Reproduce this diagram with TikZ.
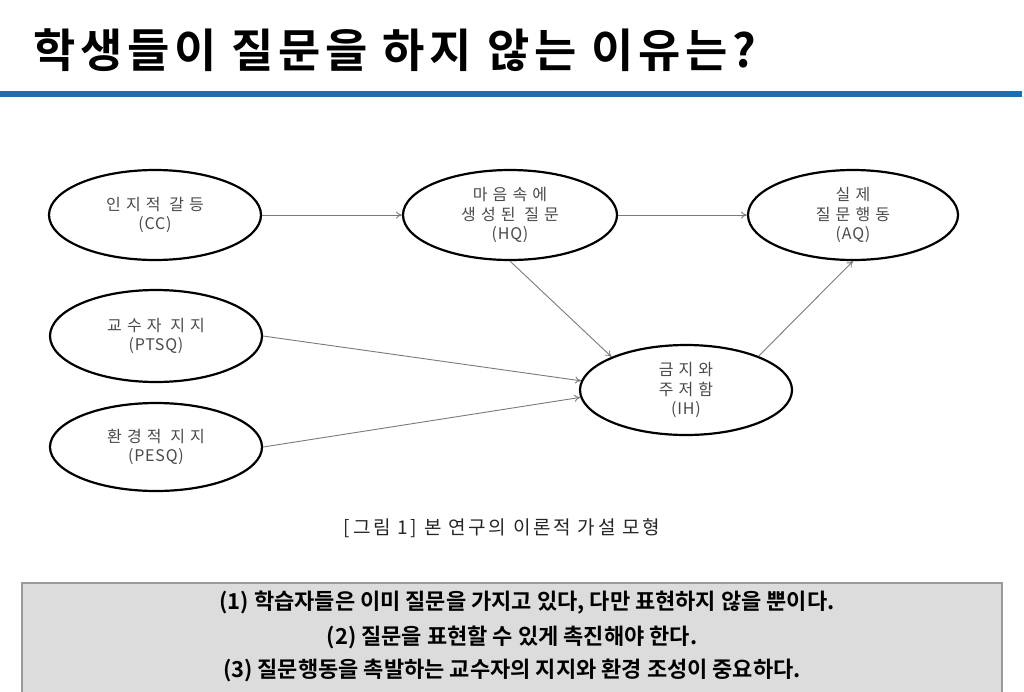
\documentclass[tikz,border=0pt]{standalone}
\usepackage{fontspec}
\usetikzlibrary{shapes.geometric,arrows.meta}
\setmainfont{Noto Sans CJK KR}
\newfontfamily\krtitle{Noto Sans CJK KR}[BoldFont=* Bold,LetterSpace=10]
\newfontfamily\krnode{Noto Sans CJK KR}[LetterSpace=32]
\newfontfamily\latnode{Noto Sans CJK KR}[LetterSpace=5]
\newfontfamily\krcap{Noto Sans CJK KR}[LetterSpace=14]
\newfontfamily\krbox{Noto Sans CJK KR}[BoldFont=* Bold]
\definecolor{titleblue}{HTML}{1A6FB5}
\definecolor{boxfill}{HTML}{DCDCDC}
\definecolor{boxline}{HTML}{9A9A9A}
\definecolor{nodetext}{HTML}{4A4A4A}
\definecolor{arrowgray}{HTML}{7A7A7A}
\newcommand{\kntxt}[1]{{\krnode #1}}
\newcommand{\lntxt}[1]{{\latnode #1}}
\tikzset{
  construct/.style={ellipse,draw=black,line width=2.2pt,align=center,
    text=nodetext,font=\fontsize{16}{19.5}\selectfont,inner sep=0pt,
    minimum width=212pt,minimum height=90pt},
  link/.style={draw=arrowgray,line width=0.9pt,-{To[length=6pt,width=7pt]}},
  boxtext/.style={font=\krbox\bfseries\fontsize{22}{26}\selectfont,text=black}
}
\begin{document}
\begin{tikzpicture}[x=1pt,y=-1pt]
\useasboundingbox (0,0) rectangle (1024,691);
\fill[white] (0,0) rectangle (1024,691);
% title
\node[anchor=west,font=\krtitle\bfseries\fontsize{46}{52}\selectfont] (title) at (30,50) {학생들이 질문을 하지 않는 이유는?};
\fill[titleblue] (0,91) rectangle (1022,97);
% constructs
\node[construct] (CC) at (155,215) {\kntxt{인지적 갈등}\\\lntxt{(CC)}};
\node[construct,minimum height=92pt] (PTSQ) at (156,336) {\kntxt{교수자 지지}\\\lntxt{(PTSQ)}};
\node[construct,minimum height=88pt] (PESQ) at (156,447) {\kntxt{환경적 지지}\\\lntxt{(PESQ)}};
\node[construct,minimum width=214pt] (HQ) at (510,215) {\kntxt{마음속에}\\\kntxt{생성된 질문}\\\lntxt{(HQ)}};
\node[construct,minimum width=210pt] (AQ) at (853,215) {\kntxt{실제}\\\kntxt{질문행동}\\\lntxt{(AQ)}};
\node[construct,minimum width=212pt] (IH) at (686,390) {\kntxt{금지와}\\\kntxt{주저함}\\\lntxt{(IH)}};
% links
\draw[link] (CC.east) -- (HQ.west);
\draw[link] (HQ.east) -- (AQ.west);
\draw[link] (HQ.south) -- (IH.156);
\draw[link] (IH.25) -- (AQ.south);
\draw[link] (PTSQ.east) -- (IH.175);
\draw[link] (PESQ.east) -- (IH.184);
% caption
\node[font=\krcap\fontsize{19}{22}\selectfont,text=black!85] (cap) at (502,528) {[그림 1] 본 연구의 이론적 가설 모형};
% summary box
\draw[fill=boxfill,draw=boxline,line width=1.2pt] (22,583) rectangle (1002,695);
\node[boxtext] (l1) at (527,603) {(1) 학습자들은 이미 질문을 가지고 있다, 다만 표현하지 않을 뿐이다.};
\node[boxtext] (l2) at (512,637) {(2) 질문을 표현할 수 있게 촉진해야 한다.};
\node[boxtext] (l3) at (512,670) {(3) 질문행동을 촉발하는 교수자의 지지와 환경 조성이 중요하다.};
\end{tikzpicture}
\end{document}
